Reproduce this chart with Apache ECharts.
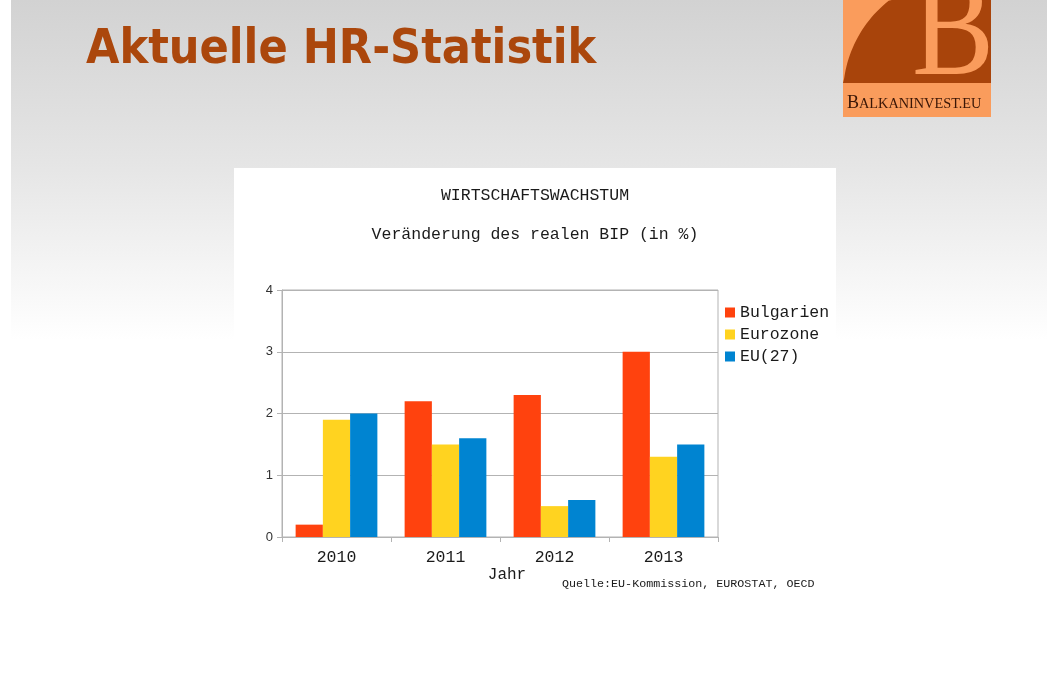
<!DOCTYPE html>
<html>
<head>
<meta charset="utf-8">
<script src="https://cdn.jsdelivr.net/npm/echarts@6/dist/echarts.min.js"></script>
<style>
  html, body { margin: 0; padding: 0; background: #ffffff; }
  #wrap { position: relative; width: 1058px; height: 675px; overflow: hidden; }
  #grad { position: absolute; left: 11px; top: 0; width: 1036px; height: 340px;
          background: linear-gradient(to bottom, #d2d2d2 0%, #e6e6e6 50%, #ffffff 100%); }
  #panel { position: absolute; left: 234px; top: 168px; width: 602px; height: 440px; background: #ffffff; }
  #chart { position: absolute; left: 0; top: 0; width: 1058px; height: 675px; }
</style>
</head>
<body>
<div id="wrap">
  <div id="grad"></div>
  <div id="panel"></div>
  <div id="chart"></div>
</div>
<script>
// ---- data ----
const years = ['2010', '2011', '2012', '2013'];
const seriesNames = ['Bulgarien', 'Eurozone', 'EU(27)'];
const bulgarien = [0.2, 2.2, 2.3, 3.0];
const eurozone = [1.9, 1.5, 0.5, 1.3];
const eu27 = [2.0, 1.6, 0.6, 1.5];
const yTicks = [0, 1, 2, 3, 4];

const pageTitle = 'Aktuelle HR-Statistik';
const chartTitle = 'WIRTSCHAFTSWACHSTUM';
const chartSubtitle = 'Veränderung des realen BIP (in %)';
const xName = 'Jahr';
const sourceNote = 'Quelle:EU-Kommission, EUROSTAT, OECD';

const colors = ['#ff420e', '#ffd320', '#0084d1'];
const LOGO_LIGHT = '#fa9c5c';
const LOGO_DARK = '#a8440b';
const MONO = '"Liberation Mono", "DejaVu Sans Mono", monospace';

// logo dark shape: rectangle cut by a circular arc (decoration only)
function logoShape() {
  const cx = 963, cy = 95, r = 120;
  const pts = [[843, 83]];
  const a0 = Math.atan2(78 - cy, 843 - cx);
  const a1 = Math.atan2(0 - cy, 893 - cx);
  const n = 24;
  for (let i = 0; i <= n; i++) {
    const a = a0 + (a1 - a0) * i / n;
    let x = cx + r * Math.cos(a), y = cy + r * Math.sin(a);
    pts.push([Math.max(843, x), Math.max(0, y)]);
  }
  pts.push([991, 0], [991, 83]);
  return pts;
}

const chart = echarts.init(document.getElementById('chart'), null, { renderer: 'canvas' });

const option = {
  backgroundColor: 'transparent',
  animation: false,
  color: colors,
  grid: {
    left: 282, right: 340, top: 290, bottom: 138,
    show: true, borderColor: '#b3b3b3', borderWidth: 1, backgroundColor: 'transparent'
  },
  legend: {
    orient: 'vertical',
    left: 725, top: 304,
    padding: 0,
    itemWidth: 10, itemHeight: 10, itemGap: 5,
    icon: 'rect',
    textStyle: { fontFamily: MONO, fontSize: 16.5, color: '#1a1a1a' },
    data: seriesNames
  },
  xAxis: {
    type: 'category',
    data: years,
    name: xName,
    nameLocation: 'middle',
    nameGap: 29,
    nameTextStyle: { fontFamily: MONO, fontSize: 16, color: '#1a1a1a', padding: [0, 0, 0, 14] },
    axisLine: { lineStyle: { color: '#b3b3b3' } },
    axisTick: { show: true, length: 5, lineStyle: { color: '#b3b3b3' } },
    axisLabel: { fontFamily: MONO, fontSize: 16.5, color: '#1a1a1a', margin: 12 },
    splitLine: { show: false }
  },
  yAxis: {
    type: 'value',
    min: yTicks[0], max: yTicks[yTicks.length - 1], interval: 1,
    axisLine: { show: true, lineStyle: { color: '#b3b3b3' } },
    axisTick: { show: true, length: 5, lineStyle: { color: '#b3b3b3' } },
    axisLabel: { fontFamily: '"Liberation Sans", Arial, sans-serif', fontSize: 13, color: '#333333', margin: 9 },
    splitLine: { show: true, lineStyle: { color: '#b3b3b3', width: 1 } }
  },
  series: [
    { name: seriesNames[0], type: 'bar', data: bulgarien, barGap: '0%', barCategoryGap: '25%' },
    { name: seriesNames[1], type: 'bar', data: eurozone, barGap: '0%', barCategoryGap: '25%' },
    { name: seriesNames[2], type: 'bar', data: eu27, barGap: '0%', barCategoryGap: '25%' }
  ],
  graphic: [
    { type: 'text', style: { text: pageTitle, x: 86, y: 51, align: 'left', verticalAlign: 'middle',
        font: 'bold 48px "DejaVu Sans Condensed", "DejaVu Sans", sans-serif', fill: '#ab470c' } },
    { type: 'rect', shape: { x: 843, y: 0, width: 148, height: 117 }, style: { fill: LOGO_LIGHT } },
    { type: 'polygon', shape: { points: logoShape() }, style: { fill: LOGO_DARK } },
    { type: 'text', x: 912, y: 36, scaleX: 0.85, scaleY: 1,
      style: { text: 'B', x: 0, y: 0, align: 'left', verticalAlign: 'middle',
        font: '145px "Liberation Serif", "DejaVu Serif", serif', fill: LOGO_LIGHT } },
    { type: 'text', style: { text: 'B', x: 847, y: 103, align: 'left', verticalAlign: 'middle',
        font: '18px "Liberation Serif", serif', fill: '#3a1606' } },
    { type: 'text', style: { text: 'ALKANINVEST.EU', x: 859, y: 104, align: 'left', verticalAlign: 'middle',
        font: '14.3px "Liberation Serif", serif', fill: '#3a1606' } },
    { type: 'text', style: { text: chartTitle, x: 535, y: 196, align: 'center', verticalAlign: 'middle',
        font: '16.5px ' + MONO, fill: '#1a1a1a' } },
    { type: 'text', style: { text: chartSubtitle, x: 535, y: 235, align: 'center', verticalAlign: 'middle',
        font: '16.5px ' + MONO, fill: '#1a1a1a' } },
    { type: 'text', style: { text: sourceNote, x: 562, y: 584, align: 'left', verticalAlign: 'middle',
        font: '11.7px ' + MONO, fill: '#1a1a1a' } }
  ]
};
chart.setOption(option);
</script>
</body>
</html>
